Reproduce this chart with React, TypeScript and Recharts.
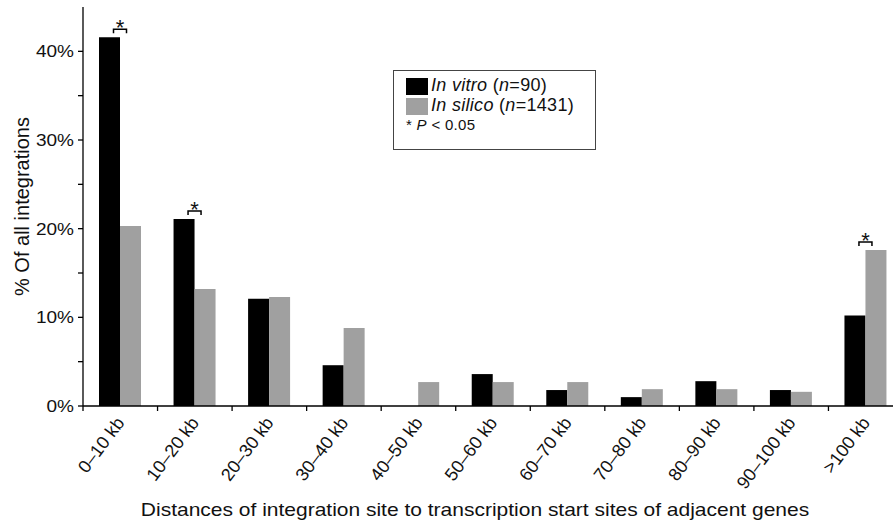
import React from 'react';
import { BarChart, Bar, XAxis, YAxis, Legend, LabelList } from 'recharts';

const categories = [
  '0–10 kb', '10–20 kb', '20–30 kb', '30–40 kb', '40–50 kb', '50–60 kb',
  '60–70 kb', '70–80 kb', '80–90 kb', '90–100 kb', '>100 kb',
];
const inVitro = [41.6, 21.1, 12.1, 4.6, 0, 3.6, 1.8, 1.0, 2.8, 1.8, 10.2];
const inSilico = [20.3, 13.2, 12.3, 8.8, 2.7, 2.7, 2.7, 1.9, 1.9, 1.6, 17.6];
const significant = [true, true, false, false, false, false, false, false, false, false, true];
const yTicks = [0, 5, 10, 15, 20, 25, 30, 35, 40];
const seriesKeys = ['inVitro', 'inSilico'];
const seriesNames = ['In vitro', 'In silico'];
const seriesN = [90, 1431];
const seriesColors = ['#000000', '#a0a0a0'];

const data = categories.map((name, i) => ({
  name,
  inVitro: inVitro[i],
  inSilico: inSilico[i],
  sig: significant[i],
}));

const FONT = '"Liberation Sans", Arial, Helvetica, sans-serif';
const INK = '#111';

// x ticks sit on the category boundaries, labels at the centre
const XTick = (props: any) => {
  const { x, y, payload } = props;
  const half = payload && payload.offset ? payload.offset : 37.25;
  const tx = x + 5;
  const ty = y + 17;
  return (
    <g>
      <line x1={x - half} y1={y} x2={x - half} y2={y + 5} stroke="#000" strokeWidth={1.3} />
      <text
        x={tx}
        y={ty}
        transform={`rotate(-53 ${tx} ${ty})`}
        textAnchor="end"
        fontFamily={FONT}
        fontSize={18}
        fill={INK}
      >
        {payload.value}
      </text>
    </g>
  );
};

const YTick = (props: any) => {
  const { x, y, payload } = props;
  if (payload.value % 10 !== 0) return null;
  return (
    <text
      transform={`translate(${x},${y + 6}) scale(1.12,1)`}
      textAnchor="end"
      fontFamily={FONT}
      fontSize={17}
      fill={INK}
    >
      {`${payload.value}%`}
    </text>
  );
};

const XTitle = (props: any) => {
  const vb = props.viewBox || {};
  const cx = vb.x + vb.width / 2 - 18;
  const by = vb.y + vb.height - 6;
  return (
    <text
      transform={`translate(${cx},${by}) scale(1.2,1)`}
      textAnchor="middle"
      fontFamily={FONT}
      fontSize={17.5}
      fill={INK}
    >
      Distances of integration site to transcription start sites of adjacent genes
    </text>
  );
};

const YTitle = (props: any) => {
  const vb = props.viewBox || {};
  const cy = vb.y + vb.height / 2;
  return (
    <text
      transform={`translate(29,${cy}) rotate(-90)`}
      textAnchor="middle"
      fontFamily={FONT}
      fontSize={20}
      fill={INK}
    >
      % Of all integrations
    </text>
  );
};

const SigMark = (props: any) => {
  const { x, y, width, height, value } = props;
  const idx = categories.indexOf(value);
  if (idx < 0 || !significant[idx] || !inVitro[idx]) return null;
  const perUnit = height / inVitro[idx];
  const greyTop = y + height - inSilico[idx] * perUnit;
  const top = Math.min(y, greyTop);
  const cx = x + width;
  const yb = top - 8;
  return (
    <g>
      <path
        d={`M${cx - 6.5},${yb + 4} L${cx - 6.5},${yb} L${cx + 6.5},${yb} L${cx + 6.5},${yb + 4}`}
        fill="none"
        stroke="#000"
        strokeWidth={1.5}
      />
      <text x={cx} y={yb + 6} textAnchor="middle" fontFamily={FONT} fontSize={22} fill={INK}>
        *
      </text>
    </g>
  );
};

const LegendBox = () => (
  <div
    style={{
      position: 'relative',
      width: 203,
      height: 80,
      boxSizing: 'border-box',
      border: '1px solid #444',
      background: '#fff',
      fontFamily: FONT,
      color: INK,
    }}
  >
    {seriesKeys.map((k, i) => (
      <React.Fragment key={k}>
        <div
          style={{
            position: 'absolute',
            left: 12,
            top: 7 + i * 20,
            width: 22,
            height: 17,
            background: seriesColors[i],
          }}
        />
        <div
          style={{
            position: 'absolute',
            left: 37,
            top: 3 + i * 20,
            fontSize: 18,
            lineHeight: '22px',
            whiteSpace: 'nowrap',
            letterSpacing: 0.3,
          }}
        >
          <i>{seriesNames[i]}</i> (<i>n</i>={seriesN[i]})
        </div>
      </React.Fragment>
    ))}
    <div
      style={{
        position: 'absolute',
        left: 12,
        top: 44,
        fontSize: 15,
        lineHeight: '20px',
        whiteSpace: 'nowrap',
        letterSpacing: 0.3,
      }}
    >
      * <i>P</i> &lt; 0.05
    </div>
  </div>
);

export default function App() {
  return (
    <div
      style={{
        position: 'absolute',
        left: 0,
        top: 0,
        width: 893,
        height: 522,
        overflow: 'hidden',
        background: '#fff',
      }}
    >
      <BarChart
        width={903}
        height={522}
        data={data}
        margin={{ top: 7, right: 0, left: 0, bottom: 0 }}
        barGap={0}
        barSize={21}
      >
        <YAxis
          width={83}
          domain={[0, 45]}
          ticks={yTicks}
          interval={0}
          allowDataOverflow
          axisLine={{ stroke: '#000', strokeWidth: 1.3 }}
          tickLine={{ stroke: '#000', strokeWidth: 1.3 }}
          tickSize={5}
          tickMargin={4}
          tick={<YTick />}
          label={<YTitle />}
        />
        <XAxis
          dataKey="name"
          height={116}
          interval={0}
          axisLine={{ stroke: '#000', strokeWidth: 1.3 }}
          tickLine={false}
          tickSize={0}
          tickMargin={0}
          tick={<XTick />}
          label={<XTitle />}
        />
        <Legend
          layout="horizontal"
          verticalAlign="middle"
          align="center"
          content={<LegendBox />}
          wrapperStyle={{ position: 'absolute', left: 393, top: 70, width: 203, height: 80 }}
        />
        <Bar dataKey="inVitro" name="In vitro" fill={seriesColors[0]} isAnimationActive={false}>
          <LabelList dataKey="name" content={<SigMark />} />
        </Bar>
        <Bar dataKey="inSilico" name="In silico" fill={seriesColors[1]} isAnimationActive={false} />
      </BarChart>
    </div>
  );
}
